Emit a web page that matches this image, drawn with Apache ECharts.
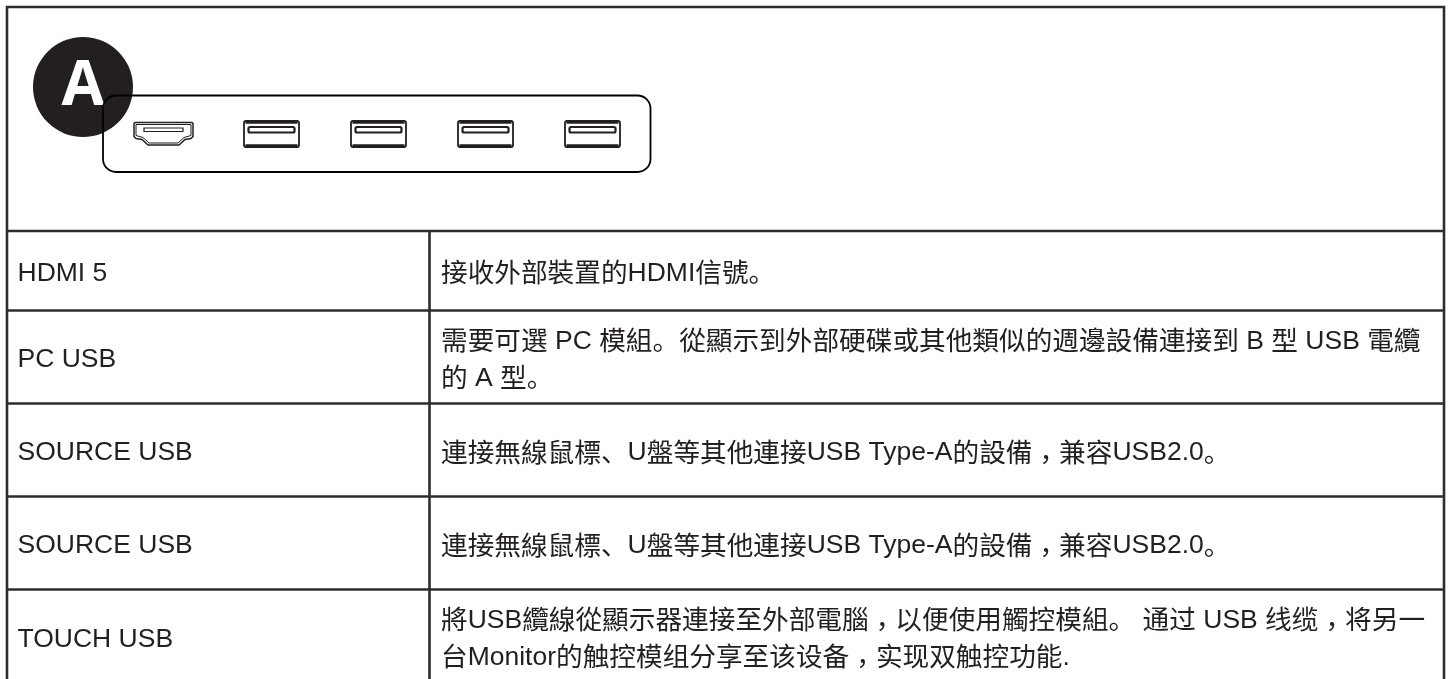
<!DOCTYPE html>
<html>
<head>
<meta charset="UTF-8">
<title>A</title>
<script src="https://cdn.jsdelivr.net/npm/echarts@6/dist/echarts.min.js"></script>
<style>html,body{margin:0;background:#fff}</style>
</head>
<body>
<div id="container" style="width:1449px;height:679px"></div>
<script>
// table content
var badge = 'A';
var ports = ['hdmi', 'usb', 'usb', 'usb', 'usb'];
var names = ['HDMI 5', 'PC USB', 'SOURCE USB', 'SOURCE USB', 'TOUCH USB'];
var descs = [
    ['接收外部裝置的HDMI信號。'],
    ['需要可選 PC 模組。從顯示到外部硬碟或其他類似的週邊設備連接到 B 型 USB 電纜', '的 A 型。'],
    ['連接無線鼠標、U盤等其他連接USB Type-A的設備，兼容USB2.0。'],
    ['連接無線鼠標、U盤等其他連接USB Type-A的設備，兼容USB2.0。'],
    ['將USB纜線從顯示器連接至外部電腦，以便使用觸控模組。 通过 USB 线缆，将另一', '台Monitor的触控模组分享至该设备，实现双触控功能.']
];

var ink = '#231f20';
var rule = '#2e2c2d';
var rowY = [231, 310.5, 403.5, 496.5, 589.5, 683];
var portX = [134, 243.5, 350.5, 457.5, 564.5];
var els = [];

// latin, CJK and the low centred comma are separate runs, padding nudges them down
var rich = {
    l: {font: '26.5px "Liberation Sans"', fill: ink, padding: [3, 0, 0, 0]},
    c: {font: '26.67px "Noto Sans CJK SC"', fill: ink},
    p: {font: '26.67px "Noto Sans CJK TC"', fill: ink, padding: [14, 0, 0, 0]}
};
function runs(t) {
    return t.replace(/，|[\x00-\x7f]+|[^\x00-\x7f，]+/g, function (s) {
        var k = s === '，' ? 'p' : (s.charCodeAt(0) < 128 ? 'l' : 'c');
        return '{' + k + '|' + s + '}';
    });
}
function line(x1, y1, x2, y2, w, c) {
    els.push({type: 'line', shape: {x1: x1, y1: y1, x2: x2, y2: y2}, style: {stroke: c || rule, lineWidth: w || 2.6}});
}
function label(x, y, t) {
    els.push({type: 'text', x: x, y: y, style: {text: runs(t), rich: rich, textVerticalAlign: 'middle'}});
}
function hdmi(x) {
    var y = 122.5;
    els.push({type: 'polygon', shape: {points: [[x + 1, y], [x + 58, y], [x + 59, y + 1], [x + 59, y + 14], [x + 57, y + 16], [x + 51, y + 17], [x + 45, y + 22.5], [x + 14, y + 22.5], [x + 8, y + 17], [x + 2, y + 16], [x, y + 14], [x, y + 1]]}, style: {fill: '#fff', stroke: ink, lineWidth: 1.5}});
    els.push({type: 'polygon', shape: {points: [[x + 2, y + 2], [x + 57, y + 2], [x + 57, y + 13], [x + 50, y + 15], [x + 44, y + 20.5], [x + 15, y + 20.5], [x + 9, y + 15], [x + 2, y + 13]]}, style: {fill: '#fff', stroke: ink, lineWidth: 1}});
    els.push({type: 'rect', shape: {x: x + 10, y: y + 5.5, width: 39, height: 3.5}, style: {fill: '#fff', stroke: ink, lineWidth: 1.2}});
}
function usb(x) {
    els.push({type: 'rect', shape: {x: x + 0.5, y: 121, width: 55, height: 26, r: 2}, style: {fill: '#fff', stroke: ink, lineWidth: 1.8}});
    line(x + 2, 122, x + 54, 122, 3.4, ink);
    line(x + 2, 146, x + 54, 146, 3.4, ink);
    els.push({type: 'rect', shape: {x: x + 5, y: 127, width: 46, height: 5.5, r: 1.5}, style: {fill: '#fff', stroke: ink, lineWidth: 2.2}});
}

// frame
line(7, 6, 7, 679);
line(1444, 6, 1444, 679);
line(6, 7, 1445, 7);
rowY.slice(0, 5).forEach(function (y) { line(6, y, 1445, y); });
line(429.5, 231, 429.5, 679);

// badge and port panel
els.push({type: 'circle', shape: {cx: 83, cy: 87, r: 50}, style: {fill: ink}});
els.push({type: 'text', x: 83, y: 87, style: {text: badge, fill: '#fff', font: 'bold 62px "Open Sans"', textAlign: 'center', textVerticalAlign: 'middle'}});
els.push({type: 'rect', shape: {x: 103, y: 95.5, width: 547.5, height: 76.5, r: 13}, style: {fill: 'none', stroke: '#000', lineWidth: 1.8}});

ports.forEach(function (p, i) {
    if (p === 'hdmi') hdmi(portX[i]); else usb(portX[i]);
});

// rows
names.forEach(function (n, i) {
    var mid = (rowY[i] + rowY[i + 1]) / 2 + 1.5;
    label(17.5, mid, n);
    var d = descs[i];
    d.forEach(function (t, k) {
        label(441, mid + (k - (d.length - 1) / 2) * 37, t);
    });
});

var mychart = echarts.init(document.getElementById('container'), null, {renderer: 'canvas'});
mychart.setOption({animation: false, backgroundColor: '#fff', graphic: {elements: els}});
</script>
</body>
</html>
